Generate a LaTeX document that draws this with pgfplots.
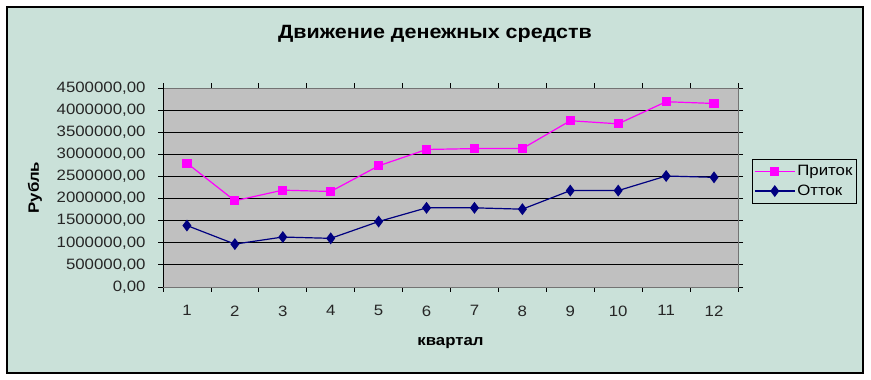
\documentclass[border=0pt]{standalone}
\usepackage{fontspec}
\setmainfont{Liberation Sans}[FakeStretch=1.12]
\usepackage{pgfplots}
\pgfplotsset{compat=1.18}
\definecolor{bgc}{RGB}{202,225,217}
\definecolor{plotgray}{RGB}{192,192,192}
\definecolor{pritok}{RGB}{255,0,255}
\definecolor{ottok}{RGB}{0,0,128}
\begin{document}
\begin{tikzpicture}
\fill[white] (0pt,0pt) rectangle (871pt,380pt);
\draw[black, line width=1.3pt, fill=bgc] (7pt,7pt) rectangle (863pt,373pt);
\node[font=\bfseries\fontsize{19.2}{22}\selectfont] at (435pt,346pt) {Движение денежных средств};
\begin{axis}[
  at={(163pt,93pt)}, anchor=south west,
  scale only axis, width=575pt, height=199pt,
  xmin=0.5, xmax=12.5, ymin=0, ymax=4500000,
  scaled y ticks=false,
  xtick={1,...,12},
  major x tick style={draw=none},
  minor xtick={0.5,1.5,...,12.5},
  minor x tick style={black, line width=0.8pt},
  ytick={0,500000,...,4500000},
  yticklabels={{0,00},{500000,00},{1000000,00},{1500000,00},{2000000,00},{2500000,00},{3000000,00},{3500000,00},{4000000,00},{4500000,00}},
  major y tick style={black, line width=0.8pt},
  tick align=outside,
  major tick length=5pt, minor tick length=5pt,
  /pgf/number format/assume math mode=true,
  tick label style={font=\fontsize{15}{17}\selectfont, text=black!85},
  yticklabel style={xshift=-9pt},
  xticklabel style={yshift=-10pt},
  axis background/.style={fill=plotgray},
  axis line style={draw=gray!90!black, line width=0.8pt},
  ymajorgrids, grid style={black, line width=0.9pt},
  xlabel={квартал}, ylabel={Рубль},
  label style={font=\bfseries\fontsize{15}{17}\selectfont},
  xlabel style={at={(axis description cs:0.5,-0.2814)}, anchor=center},
  ylabel style={at={(axis description cs:-0.2226,0.5)}, anchor=center},
  legend style={at={(axis description cs:1.0243,0.643)}, anchor=north west,
    draw=black, fill=bgc, font=\fontsize{15}{17}\selectfont,
    row sep=4pt, inner xsep=2pt, inner ysep=4pt},
  legend cell align=left,
  legend image code/.code={\draw[mark repeat=2,mark phase=2] plot coordinates {(0pt,0pt) (20pt,0pt) (40pt,0pt)};},
]
\addplot[pritok, line width=1.2pt, mark=square*, mark size=4pt, mark options={solid}]
 coordinates {(1,2800000) (2,1950000) (3,2190000) (4,2160000) (5,2740000) (6,3110000)
  (7,3130000) (8,3130000) (9,3760000) (10,3690000) (11,4190000) (12,4150000)};
\addlegendentry{Приток}
\addplot[ottok, line width=1.2pt, mark=diamond*, mark size=5pt, mark options={solid}]
 coordinates {(1,1390000) (2,970000) (3,1130000) (4,1100000) (5,1480000) (6,1790000)
  (7,1790000) (8,1760000) (9,2180000) (10,2180000) (11,2510000) (12,2480000)};
\addlegendentry{Отток}
\draw[black, line width=0.9pt] (rel axis cs:0,0) -- (rel axis cs:0,1);
\draw[black, line width=0.9pt] (rel axis cs:0,0) -- (rel axis cs:1,0);
\end{axis}
\end{tikzpicture}
\end{document}
